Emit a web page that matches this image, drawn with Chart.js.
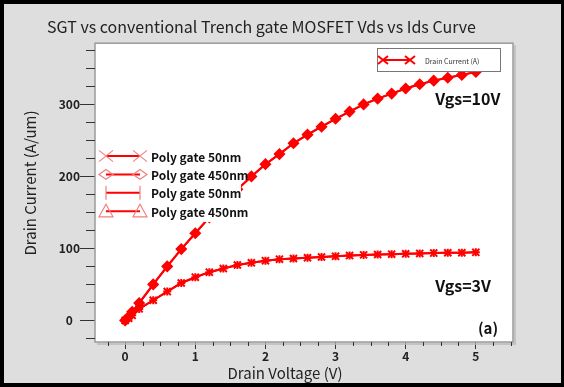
<!DOCTYPE html>
<html>
<head>
<meta charset="utf-8">
<script src="https://cdn.jsdelivr.net/npm/chart.js@4.4.0/dist/chart.umd.min.js"></script>
<style>
  html, body { margin: 0; padding: 0; background: #000; }
  canvas { display: block; }
</style>
</head>
<body>
<canvas id="myChart" width="564" height="387"></canvas>
<script>
// values (Vds in V, Ids in A/um)
const drainVoltage = [0, 0.05, 0.1, 0.2, 0.4, 0.6, 0.8, 1.0, 1.2, 1.4, 1.6, 1.8, 2.0, 2.2, 2.4,
                      2.6, 2.8, 3.0, 3.2, 3.4, 3.6, 3.8, 4.0, 4.2, 4.4, 4.6, 4.8, 5.0];
const current10V = [0, 5, 12, 24, 50, 75, 99, 121, 143, 163, 182, 200, 217, 231, 246,
                    258, 269, 280, 290, 300, 308, 315, 322, 328, 333, 337, 341, 345];
const current3V = [0, 3, 7, 16, 28, 40, 52, 60, 67, 72, 77, 80, 83, 85, 86,
                   87, 88, 89, 90, 91, 91.5, 92, 92.5, 93, 93.5, 94, 94, 94.5];
const xTicks = [0, 1, 2, 3, 4, 5];
const yTicks = [0, 100, 200, 300];
const polyLabels = ["Poly gate 50nm", "Poly gate 450nm", "Poly gate 50nm", "Poly gate 450nm"];
const polyStyles = ["crossRot", "rectRot", "line", "triangle"];

const FONT = "'Noto Sans CJK KR', 'Noto Sans', sans-serif";
const RED = "#ff0000";

function toPoints(ys) {
  return drainVoltage.map((v, i) => ({x: v, y: ys[i]}));
}

function marker(ctx, style, x, y, r) {
  ctx.beginPath();
  if (style == "crossRot") {
    ctx.moveTo(x - r, y - r * 0.8); ctx.lineTo(x + r, y + r * 0.8);
    ctx.moveTo(x + r, y - r * 0.8); ctx.lineTo(x - r, y + r * 0.8);
  } else if (style == "rectRot") {
    ctx.moveTo(x - r, y); ctx.lineTo(x, y - r * 0.7); ctx.lineTo(x + r, y); ctx.lineTo(x, y + r * 0.7); ctx.closePath();
  } else if (style == "line") {
    ctx.moveTo(x, y - r); ctx.lineTo(x, y + r);
  } else if (style == "triangle") {
    ctx.moveTo(x, y - r); ctx.lineTo(x + r, y + r * 0.8); ctx.lineTo(x - r, y + r * 0.8); ctx.closePath();
  }
  ctx.stroke();
}

const framePlugin = {
  id: "frame",
  beforeDraw(chart) {
    const ctx = chart.ctx, a = chart.chartArea;
    ctx.save();
    ctx.fillStyle = "#000";
    ctx.fillRect(0, 0, chart.width, chart.height);
    ctx.fillStyle = "#dedede";
    ctx.fillRect(4, 4, chart.width - 7, chart.height - 8);
    ctx.fillStyle = "#fff";
    ctx.fillRect(a.left, a.top, a.right - a.left, a.bottom - a.top);
    ctx.restore();
  },
  afterDatasetsDraw(chart) {
    const ctx = chart.ctx, a = chart.chartArea;
    const xs = chart.scales.x, ys = chart.scales.y;
    ctx.save();

    // plot border
    ctx.strokeStyle = "#9a9a9a";
    ctx.lineWidth = 1.5;
    ctx.strokeRect(a.left, a.top, a.right - a.left, a.bottom - a.top);
    ctx.strokeStyle = "#bbb";
    ctx.beginPath();
    ctx.moveTo(a.right + 2, a.top + 2); ctx.lineTo(a.right + 2, a.bottom + 2); ctx.lineTo(a.left + 2, a.bottom + 2);
    ctx.stroke();

    // minor ticks
    ctx.strokeStyle = "#333";
    ctx.lineWidth = 1;
    ctx.beginPath();
    for (let v = -0.25; v <= 5.5; v += 0.25) {
      if (Math.abs(v - Math.round(v)) < 0.01) continue;
      const px = Math.round(xs.getPixelForValue(v)) + 0.5;
      ctx.moveTo(px, a.bottom); ctx.lineTo(px, a.bottom + 4);
    }
    for (let v = -25; v <= 375; v += 25) {
      if (v % 100 == 0) continue;
      const py = Math.round(ys.getPixelForValue(v)) + 0.5;
      ctx.moveTo(a.left - 9, py); ctx.lineTo(a.left, py);
    }
    ctx.stroke();

    // "Poly gate" legend box, drawn over the curves
    ctx.fillStyle = "#fff";
    ctx.fillRect(a.left + 1, 146, 241 - a.left - 1, 76);
    polyLabels.forEach((label, i) => {
      const y = 156 + i * 18.4;
      ctx.strokeStyle = RED;
      ctx.lineWidth = 2;
      ctx.beginPath(); ctx.moveTo(106, y); ctx.lineTo(140, y); ctx.stroke();
      ctx.strokeStyle = "#f08080";
      ctx.lineWidth = 1.2;
      marker(ctx, polyStyles[i], 106, y, 7);
      marker(ctx, polyStyles[i], 140, y, 7);
      ctx.fillStyle = "#111";
      ctx.font = "bold 12px " + FONT;
      ctx.textAlign = "left";
      ctx.textBaseline = "middle";
      ctx.fillText(label, 151, y + 1);
    });

    // "Drain Current (A)" legend box
    ctx.fillStyle = "#fff";
    ctx.fillRect(377, 48, 123, 23);
    ctx.strokeStyle = "#777";
    ctx.lineWidth = 1;
    ctx.strokeRect(377.5, 48.5, 123, 23);
    ctx.strokeStyle = RED;
    ctx.lineWidth = 2;
    ctx.beginPath(); ctx.moveTo(383, 60); ctx.lineTo(410, 60); ctx.stroke();
    marker(ctx, "crossRot", 383, 60, 5);
    marker(ctx, "crossRot", 410, 60, 5);
    ctx.fillStyle = "#333";
    ctx.font = "7px " + FONT;
    ctx.textAlign = "left";
    ctx.textBaseline = "middle";
    ctx.fillText("Drain Current (A)", 425, 61);

    // annotations
    ctx.fillStyle = "#111";
    ctx.font = "bold 16px " + FONT;
    ctx.fillText("Vgs=10V", xs.getPixelForValue(4.42), ys.getPixelForValue(307));
    ctx.fillText("Vgs=3V", xs.getPixelForValue(4.42), ys.getPixelForValue(48.5));
    ctx.font = "bold 15px " + FONT;
    ctx.fillText("(a)", xs.getPixelForValue(5.03), ys.getPixelForValue(-11));

    // axis titles
    ctx.fillStyle = "#222";
    ctx.font = "15px " + FONT;
    ctx.textAlign = "center";
    ctx.fillText("Drain Voltage (V)", 285, 373);
    ctx.translate(30, 183);
    ctx.rotate(-Math.PI / 2);
    ctx.fillText("Drain Current (A/um)", 0, 0);
    ctx.restore();
  }
};

const ctx = document.getElementById("myChart").getContext("2d");

const myChart = new Chart(ctx, {
  type: "line",
  data: {
    datasets: [
      {
        label: "Poly gate 450nm",
        data: toPoints(current10V),
        borderColor: RED, backgroundColor: RED, borderWidth: 2,
        pointStyle: "rectRot", pointRadius: 5, pointBorderWidth: 1.5, tension: 0
      },
      {
        label: "Poly gate 450nm",
        data: toPoints(current10V),
        borderColor: RED, backgroundColor: "#fff", borderWidth: 2,
        pointStyle: "triangle", pointRadius: 2.5, pointBorderWidth: 1, tension: 0
      },
      {
        label: "Poly gate 50nm",
        data: toPoints(current3V),
        borderColor: RED, backgroundColor: RED, borderWidth: 2,
        pointStyle: "crossRot", pointRadius: 5, pointBorderWidth: 2, tension: 0
      },
      {
        label: "Poly gate 50nm",
        data: toPoints(current3V),
        borderColor: RED, backgroundColor: RED, borderWidth: 2,
        pointStyle: "cross", pointRadius: 4, pointBorderWidth: 2, tension: 0
      }
    ]
  },
  options: {
    responsive: false,
    animation: false,
    devicePixelRatio: 1,
    layout: { padding: { left: 10, right: 51, top: 0, bottom: 0 } },
    plugins: {
      legend: { display: false },
      tooltip: { enabled: false },
      title: {
        display: true,
        text: "SGT vs conventional Trench gate MOSFET Vds vs Ids Curve",
        color: "#222",
        font: { family: FONT, size: 16, weight: "normal" },
        padding: { top: 17, bottom: 7 }
      }
    },
    scales: {
      x: {
        type: "linear",
        min: -0.43,
        max: 5.53,
        afterBuildTicks: scale => { scale.ticks = xTicks.map(v => ({value: v})); },
        afterFit: scale => { scale.height = 45; },
        ticks: { color: "#222", font: { family: FONT, size: 12, weight: "bold" }, padding: 0 },
        grid: { drawOnChartArea: false, tickLength: 7, color: "#333" },
        border: { display: false }
      },
      y: {
        type: "linear",
        min: -30,
        max: 385,
        afterBuildTicks: scale => { scale.ticks = yTicks.map(v => ({value: v})); },
        afterFit: scale => { scale.width = 85; },
        ticks: { color: "#222", font: { family: FONT, size: 12, weight: "bold" }, padding: 0, crossAlign: "center" },
        grid: { drawOnChartArea: false, tickLength: 15, color: "#333" },
        border: { display: false }
      }
    }
  },
  plugins: [framePlugin]
});
</script>
</body>
</html>
